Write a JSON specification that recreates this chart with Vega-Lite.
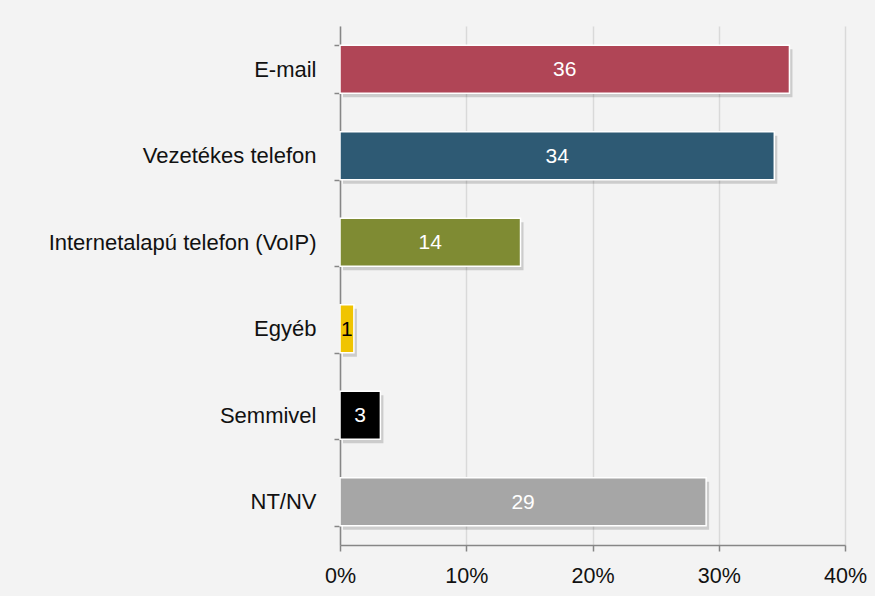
{
  "$schema": "https://vega.github.io/schema/vega-lite/v6.json",
  "autosize": {"type": "none"},
  "width": 505,
  "height": 519,
  "padding": {"left": 340, "top": 26, "right": 30, "bottom": 51},
  "background": "#F3F3F3",
  "config": {
    "view": {"stroke": null},
    "font": "Liberation Sans"
  },
  "data": {
    "values": [
      {"cat": "E-mail", "value": 35.6},
      {"cat": "Vezetékes telefon", "value": 34.4},
      {"cat": "Internetalapú telefon (VoIP)", "value": 14.3},
      {"cat": "Egyéb", "value": 1.1},
      {"cat": "Semmivel", "value": 3.2},
      {"cat": "NT/NV", "value": 29.0}
    ]
  },
  "transform": [{"calculate": "datum.value / 2", "as": "mid"}],
  "encoding": {
    "y": {
      "field": "cat",
      "type": "nominal",
      "sort": null,
      "scale": {"paddingInner": 0.445, "paddingOuter": 0.2225},
      "axis": {
        "title": null,
        "domainColor": "#868686",
        "domainWidth": 1.5,
        "tickColor": "#868686",
        "tickWidth": 1.5,
        "tickSize": 6,
        "tickBand": "extent",
        "labelPadding": 18,
        "labelFont": "Liberation Sans",
        "labelFontSize": 22,
        "labelLimit": 0,
        "labelColor": "#111111",
        "grid": false
      }
    }
  },
  "layer": [
    {
      "mark": {"type": "bar", "color": "#000000", "opacity": 0.16, "xOffset": 3, "yOffset": 4},
      "encoding": {
        "x": {"field": "value", "type": "quantitative"}
      }
    },
    {
      "mark": {"type": "bar", "stroke": "#FFFFFF", "strokeWidth": 1.5},
      "encoding": {
        "x": {
          "field": "value",
          "type": "quantitative",
          "scale": {"domain": [0, 40]},
          "axis": {
            "title": null,
            "values": [0, 10, 20, 30, 40],
            "format": ".0f",
            "labelExpr": "datum.label + '%'",
            "grid": true,
            "gridColor": "#D9D9D9",
            "gridWidth": 1.5,
            "domainColor": "#868686",
            "domainWidth": 1.5,
            "tickColor": "#868686",
            "tickWidth": 1.5,
            "tickSize": 6,
            "labelPadding": 14,
            "labelFont": "Liberation Sans",
            "labelFontSize": 21.5,
            "labelColor": "#111111",
            "labelFlush": false
          }
        },
        "color": {
          "field": "cat",
          "type": "nominal",
          "legend": null,
          "scale": {
            "domain": ["E-mail", "Vezetékes telefon", "Internetalapú telefon (VoIP)", "Egyéb", "Semmivel", "NT/NV"],
            "range": ["#B04556", "#2E5A74", "#7F8B33", "#F0C400", "#000000", "#A6A6A6"]
          }
        }
      }
    },
    {
      "mark": {"type": "text", "font": "Liberation Sans", "fontSize": 21, "align": "center", "baseline": "middle", "dy": 1},
      "encoding": {
        "x": {"field": "mid", "type": "quantitative"},
        "text": {"field": "value", "type": "quantitative", "format": ".0f"},
        "color": {
          "condition": {"test": "datum.cat === 'Egyéb'", "value": "#000000"},
          "value": "#FFFFFF"
        }
      }
    }
  ]
}
